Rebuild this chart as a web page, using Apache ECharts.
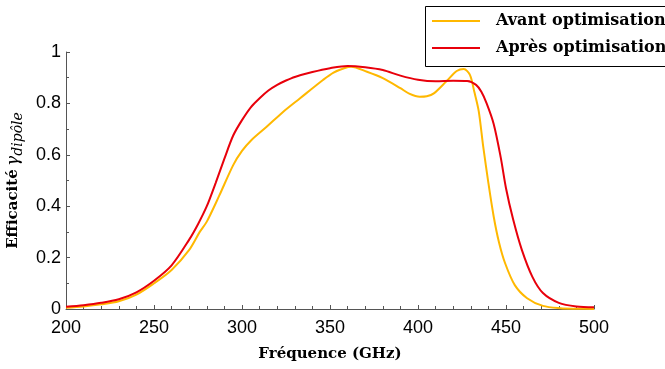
<!DOCTYPE html>
<html>
<head>
<meta charset="utf-8">
<script src="https://cdn.jsdelivr.net/npm/echarts@6/dist/echarts.min.js"></script>
<style>
  html, body { margin: 0; padding: 0; background: #fff; }
  #chart { width: 665px; height: 369px; }
</style>
</head>
<body>
<div id="chart"></div>
<script>
// frequency (GHz) / efficiency
const freqAvant = [200, 210, 220, 230, 240, 250, 260, 270, 276, 280, 287, 295, 300, 305, 314, 323, 333, 346, 352, 358, 362, 371, 380, 390, 395, 401, 405, 409, 416, 422, 426, 429.5, 432, 434.5, 437, 440, 443, 446, 449.5, 455, 462, 471, 481, 490, 500];
const effAvant = [0.005, 0.01, 0.018, 0.03, 0.056, 0.1, 0.152, 0.23, 0.3, 0.34, 0.44, 0.56, 0.615, 0.655, 0.709, 0.765, 0.82, 0.891, 0.92, 0.937, 0.943, 0.923, 0.898, 0.859, 0.838, 0.826, 0.828, 0.839, 0.885, 0.926, 0.934, 0.911, 0.845, 0.77, 0.635, 0.49, 0.36, 0.26, 0.178, 0.093, 0.042, 0.012, 0.003, 0.001, 0.0];

const freqApres = [200, 210, 220, 230, 240, 250, 260, 270, 275, 280, 285, 290, 295, 300, 305, 310, 315, 320, 325, 330, 340, 350, 360, 370, 380, 390, 400, 410, 420, 428, 433, 436, 439, 443, 447, 450, 454, 459, 465, 471, 480, 490, 500];
const effApres = [0.009, 0.015, 0.024, 0.038, 0.065, 0.11, 0.17, 0.27, 0.33, 0.4, 0.49, 0.585, 0.675, 0.735, 0.785, 0.82, 0.85, 0.872, 0.889, 0.903, 0.922, 0.937, 0.946, 0.941, 0.93, 0.908, 0.892, 0.886, 0.888, 0.887, 0.872, 0.845, 0.8, 0.72, 0.59, 0.47, 0.35, 0.23, 0.125, 0.062, 0.024, 0.01, 0.007];

const seriesNames = ['Avant optimisation', 'Après optimisation'];
const colors = ['#FFB800', '#E8000B'];

const zip = (xs, ys) => xs.map((x, i) => [x, ys[i]]);

const labelFont = {
  fontFamily: '"Liberation Sans", Arial, sans-serif',
  fontSize: 18,
  color: '#000'
};
const serifBold = '"DejaVu Serif", serif';

const chart = echarts.init(document.getElementById('chart'));
chart.setOption({
  animation: false,
  color: colors,
  grid: { left: 66, right: 71, top: 52, bottom: 60, outerBoundsMode: 'none' },
  // legend frame runs past the right edge, like the original
  graphic: [{
    type: 'rect',
    shape: { x: 425.5, y: 6.5, width: 270, height: 60 },
    style: { fill: '#fff', stroke: '#000', lineWidth: 1 },
    z: 0
  }],
  legend: {
    orient: 'vertical',
    left: 425,
    top: 6,
    padding: [7, 10, 10, 7],
    itemGap: 11,
    itemWidth: 48,
    itemHeight: 16,
    icon: 'path://M0,7 L48,7 L48,9 L0,9 Z',
    borderWidth: 0,
    textStyle: {
      fontFamily: serifBold,
      fontWeight: 'bold',
      fontSize: 16,
      color: '#000',
      padding: [0, 0, 0, 11]
    },
    data: seriesNames
  },
  xAxis: {
    type: 'value',
    min: 200,
    max: 500,
    interval: 50,
    name: 'Fréquence (GHz)',
    nameLocation: 'middle',
    nameGap: 38,
    nameTextStyle: { fontFamily: serifBold, fontWeight: 'bold', fontSize: 15, color: '#000' },
    axisLine: { lineStyle: { color: '#555', width: 1 } },
    axisTick: { inside: true, length: 4, lineStyle: { color: '#555' } },
    minorTick: { show: true, splitNumber: 5, length: 3, lineStyle: { color: '#555' } },
    axisLabel: { ...labelFont, margin: 10 },
    splitLine: { show: false }
  },
  yAxis: {
    type: 'value',
    min: 0,
    max: 1,
    interval: 0.2,
    name: '{b|Efficacité} {g|γ}{s|dipôle}',
    nameLocation: 'middle',
    nameGap: 34,
    nameRotate: 90,
    nameTextStyle: {
      rich: {
        b: { fontFamily: serifBold, fontWeight: 'bold', fontSize: 15, color: '#000' },
        g: { fontFamily: '"DejaVu Serif", serif', fontStyle: 'italic', fontSize: 17, color: '#000' },
        s: { fontFamily: '"DejaVu Serif", serif', fontStyle: 'italic', fontSize: 14, color: '#000', padding: [9, 0, 0, 0] }
      }
    },
    axisLine: { show: true, lineStyle: { color: '#555', width: 1 } },
    axisTick: { show: true, inside: true, length: 4, lineStyle: { color: '#555' } },
    minorTick: { show: true, splitNumber: 2, length: 3, lineStyle: { color: '#555' } },
    axisLabel: { ...labelFont, margin: 5 },
    splitLine: { show: false }
  },
  series: [
    {
      name: seriesNames[0],
      type: 'line',
      data: zip(freqAvant, effAvant),
      smooth: 0.3,
      symbol: 'none',
      lineStyle: { width: 2, color: colors[0] },
      z: 2
    },
    {
      name: seriesNames[1],
      type: 'line',
      data: zip(freqApres, effApres),
      smooth: 0.3,
      symbol: 'none',
      lineStyle: { width: 2, color: colors[1] },
      z: 3
    }
  ]
});
</script>
</body>
</html>
